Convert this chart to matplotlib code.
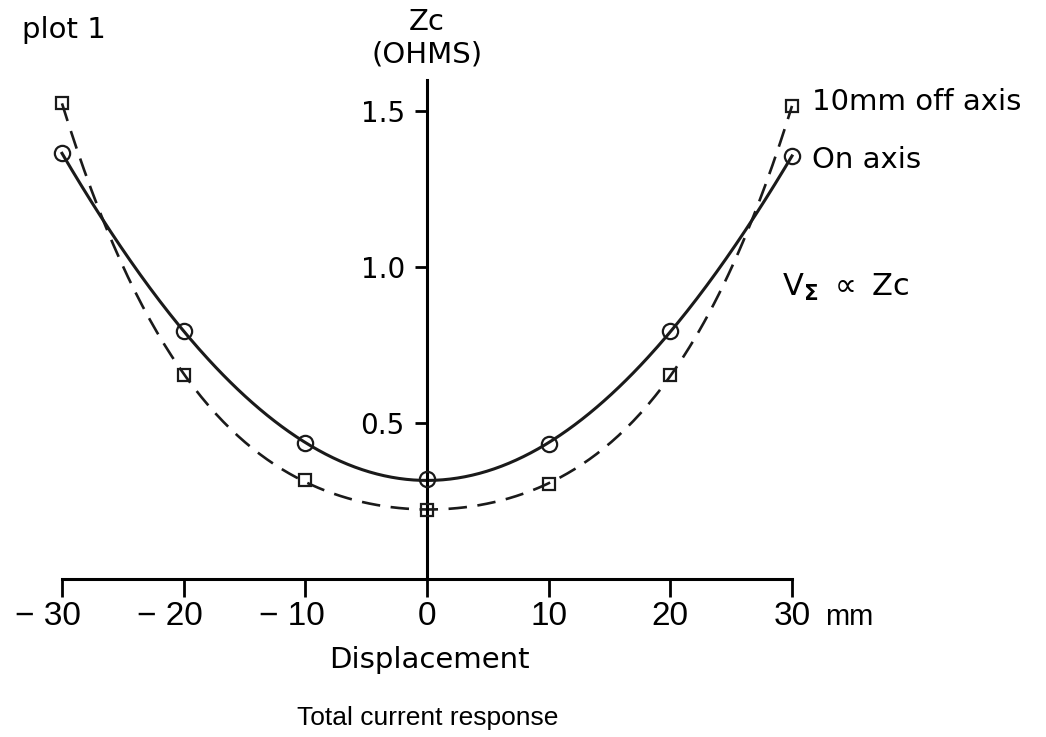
import numpy as np
import matplotlib
matplotlib.use("Agg")
import matplotlib.pyplot as plt
from matplotlib.transforms import ScaledTranslation

# displacement (mm) and Zc (ohms)
displacement = [-30, -20, -10, 0, 10, 20, 30]
zc_on_axis = [1.365, 0.795, 0.436, 0.32, 0.433, 0.795, 1.356]
zc_off_axis = [1.526, 0.654, 0.317, 0.221, 0.304, 0.654, 1.516]
x_ticks = [-30, -20, -10, 0, 10, 20, 30]
x_labels = ['\u2212 30', '\u2212 20', '\u2212 10', '0', '10', '20', '30']
y_ticks = [0.5, 1.0, 1.5]

plt.rcParams['font.family'] = ['DejaVu Sans']
lib = ['Liberation Sans', 'DejaVu Sans']

W, H = 1046, 737
fig = plt.figure(figsize=(W / 100, H / 100), dpi=100)
ax = fig.add_axes([62 / W, (H - 579) / H, 730 / W, 499 / H])
ax.set_xlim(-30, 30)
ax.set_ylim(0, 1.6)

x = np.array(displacement)
xs = np.linspace(-30, 30, 300)
for ys, style, marker, ms in [(zc_on_axis, '-', 'o', 11), (zc_off_axis, (0, (7, 4)), 's', 8.5)]:
    fit = np.polyfit(x, ys, 4)
    ax.plot(xs, np.polyval(fit, xs), color='#1a1a1a', lw=2.2 if style == '-' else 1.9,
            linestyle=style, zorder=2, clip_on=False)
    ax.plot(x, ys, linestyle='none', marker=marker, ms=ms, mfc='none',
            mec='#1a1a1a', mew=1.6, zorder=3, clip_on=False)

for s in ['top', 'right']:
    ax.spines[s].set_visible(False)
ax.spines['left'].set_position(('data', 0))
ax.spines['left'].set_linewidth(2.2)
ax.spines['bottom'].set_linewidth(2.2)

ax.set_xticks(x_ticks)
ax.set_xticklabels(x_labels, family=lib, fontsize=24)
ax.set_yticks(y_ticks)
ax.set_yticklabels(['0.5', '1.0', '1.5'], fontsize=20)
ax.tick_params(axis='x', direction='out', length=13, width=2, pad=3)
ax.tick_params(axis='y', direction='out', length=9, width=2, pad=7)

# keep the digits centred on the tick, minus sign hanging to the left
for lbl, v in zip(ax.get_xticklabels(), x_ticks):
    if v < 0:
        lbl.set_ha('right')
        lbl.set_transform(lbl.get_transform() + ScaledTranslation(0.19, 0, fig.dpi_scale_trans))

fig.text(22 / W, 1 - 30 / H, 'plot 1', fontsize=21, va='center', ha='left')
fig.text(427 / W, 1 - 38 / H, 'Zc\n(OHMS)', fontsize=21, va='center', ha='center',
         linespacing=1.2)
fig.text(812 / W, 1 - 102 / H, '10mm off axis', fontsize=21, va='center', ha='left')
fig.text(812 / W, 1 - 160 / H, 'On axis', fontsize=21, va='center', ha='left')
fig.text(782 / W, 1 - 287 / H, r'V$_{\mathbf{\Sigma}}$ $\propto$ Zc', fontsize=22,
         va='center', ha='left')
fig.text(825 / W, 1 - 625 / H, 'mm', fontsize=21, va='baseline', ha='left', family=lib)
fig.text(429 / W, 1 - 660 / H, 'Displacement', fontsize=21, va='center', ha='center')
fig.text(428 / W, 1 - 718 / H, 'Total current response', fontsize=19, va='center',
         ha='center', family=lib)

fig.savefig('out.png', dpi=100, facecolor='white')
